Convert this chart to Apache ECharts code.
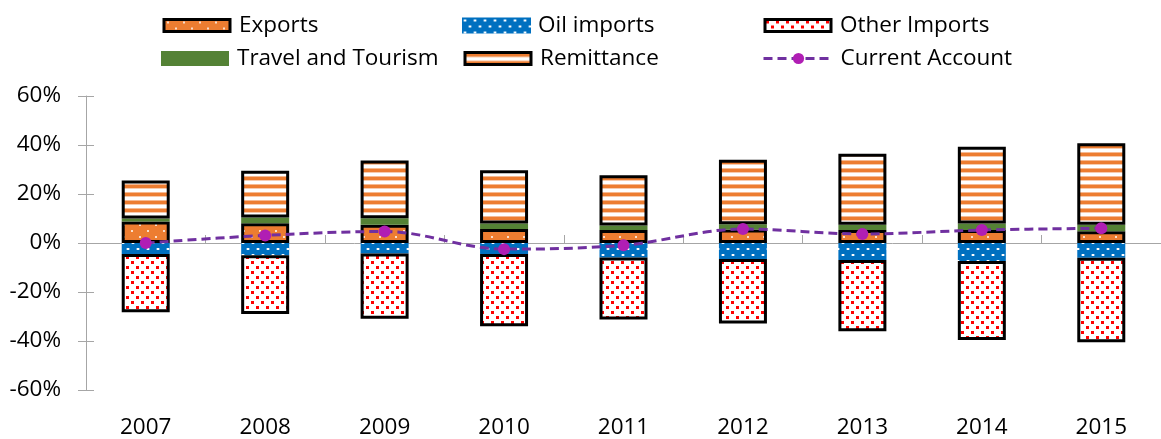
<!DOCTYPE html>
<html><head><meta charset="utf-8">
<script src="https://cdn.jsdelivr.net/npm/echarts@6/dist/echarts.min.js"></script>
<style>html,body{margin:0;padding:0;background:#fff}#c{width:1161px;height:439px}</style>
</head><body><div id="c"></div>
<script>
const years = ['2007','2008','2009','2010','2011','2012','2013','2014','2015'];
const exportsVals = [8.8, 8.1, 7.5, 5.7, 5.3, 5.5, 5.3, 5.3, 4.8];
const travelVals = [1.2, 2.3, 2.6, 2.3, 1.8, 2.2, 2.2, 2.7, 2.7];
const remitVals = [15.5, 19.1, 23.6, 21.7, 20.6, 26.3, 28.9, 31.3, 33.2];
const oilVals = [-4.5, -5.0, -4.3, -4.5, -5.9, -6.5, -6.9, -7.3, -6.0];
const otherVals = [-23.8, -24.0, -26.6, -29.5, -25.3, -26.4, -29.1, -32.3, -34.5];
const caVals = [0.0, 3.1, 4.7, -2.5, -0.9, 5.7, 3.7, 5.3, 6.0];

function tile(w, h, draw) {
  const c = document.createElement('canvas'); c.width = w; c.height = h;
  const g = c.getContext('2d'); draw(g); return c;
}
const exportsPat = tile(16, 12, g => {
  g.fillStyle = '#ED7D31'; g.fillRect(0,0,16,12);
  g.fillStyle = 'rgba(255,255,255,0.75)'; g.fillRect(3,2,2,2); g.fillRect(11,8,2,2);
});
const oilPat = tile(10, 12, g => {
  g.fillStyle = '#0070C0'; g.fillRect(0,0,10,12);
  g.fillStyle = '#ffffff'; g.fillRect(2,2,2,2); g.fillRect(7,8,2,2);
  g.fillStyle = 'rgba(255,255,255,0.35)'; g.fillRect(1,2,1,2); g.fillRect(4,2,1,2); g.fillRect(6,8,1,2); g.fillRect(9,8,1,2);
});
const otherPat = tile(10, 10, g => {
  g.fillStyle = '#ffffff'; g.fillRect(0,0,10,10);
  g.fillStyle = '#FF0000'; g.fillRect(1,1,3,3); g.fillRect(6,6,3,3);
});
const remitPat = tile(4, 8, g => {
  g.fillStyle = '#ffffff'; g.fillRect(0,0,4,8);
  g.fillStyle = '#F6B991'; g.fillRect(0,0,4,1);
  g.fillStyle = '#ED7D31'; g.fillRect(0,1,4,3);
  g.fillStyle = '#F8CBAD'; g.fillRect(0,4,4,1);
});
const pat = c => ({ image: c, repeat: 'repeat' });

const FONT = 'Open Sans';
const FS = 22.5;
const chart = echarts.init(document.getElementById('c'), null, { renderer: 'canvas' });

function leg(name, left, top, w, h, padL, icon) {
  const o = {
    data: [name], left: left, top: top, padding: 0, itemWidth: w, itemHeight: h,
    selectedMode: false,
    textStyle: { fontFamily: FONT, fontSize: FS, color: '#000', lineHeight: 22, padding: [1,0,0,padL] }
  };
  if (icon) o.icon = icon;
  return o;
}

chart.setOption({
  animation: false,
  legend: [
    leg({name:'Exports', itemStyle:{borderColor:'#000',borderWidth:3}}, 162.5, 14, 66, 12, 4, 'rect'),
    leg({name:'Travel and Tourism', itemStyle:{borderWidth:0}}, 161, 47, 68, 15, 3, 'rect'),
    leg({name:'Oil imports', itemStyle:{borderWidth:0}}, 462, 14, 69, 16, 2, 'rect'),
    leg({name:'Remittance', itemStyle:{borderColor:'#000',borderWidth:3}}, 463.5, 47, 66, 12, 4, 'rect'),
    leg({name:'Other Imports', itemStyle:{borderColor:'#000',borderWidth:3}}, 763.5, 14, 66, 12, 4, 'rect'),
    leg({name:'Current Account', lineStyle:{width:3,type:[9,5],color:'#7030A0'}}, 762, 47, 70, 14, 2)
  ],
  grid: { left: 86, top: 96, width: 1089, height: 299, containLabel: false },
  xAxis: [
    { type: 'category', data: years, boundaryGap: true,
      axisLine: { onZero: true, lineStyle: { color: '#A6A6A6', width: 1 } },
      axisTick: { show: true, inside: true, length: 8, lineStyle: { color: '#A6A6A6' } },
      axisLabel: { show: false }, splitLine: { show: false } },
    { type: 'category', data: years, position: 'bottom', boundaryGap: true,
      axisLine: { show: false, onZero: false }, axisTick: { show: false },
      axisLabel: { fontFamily: FONT, fontSize: FS, color: '#000', margin: 26 } }
  ],
  yAxis: [
    { type: 'value', min: -60, max: 60, interval: 20,
      axisLine: { show: true, lineStyle: { color: '#A6A6A6' } },
      axisTick: { show: true, length: 8, lineStyle: { color: '#A6A6A6' } },
      splitLine: { show: false },
      axisLabel: { formatter: '{value}%', fontFamily: FONT, fontSize: FS, color: '#000', margin: 25, padding: [4,0,0,0] } },
    { type: 'value', min: -60, max: 60, interval: 20, position: 'left',
      axisLine: { show: false }, axisTick: { show: true, inside: true, length: 8, lineStyle: { color: '#A6A6A6' } },
      splitLine: { show: false }, axisLabel: { show: false } }
  ],
  series: [
    { name: 'Exports', type: 'bar', stack: 'a', data: exportsVals, barWidth: 48,
      itemStyle: { color: pat(exportsPat), borderColor: '#000', borderWidth: 3 } },
    { name: 'Oil imports', type: 'bar', stack: 'a', data: oilVals, barWidth: 48,
      itemStyle: { color: pat(oilPat), borderWidth: 0 } },
    { name: 'Other Imports', type: 'bar', stack: 'a', data: otherVals, barWidth: 48,
      itemStyle: { color: pat(otherPat), borderColor: '#000', borderWidth: 3 } },
    { name: 'Travel and Tourism', type: 'bar', stack: 'a', data: travelVals, barWidth: 48,
      itemStyle: { color: '#548235', borderWidth: 0 } },
    { name: 'Remittance', type: 'bar', stack: 'a', data: remitVals, barWidth: 48,
      itemStyle: { color: pat(remitPat), borderColor: '#000', borderWidth: 3 } },
    { name: 'Current Account', type: 'line', data: caVals, smooth: 0.35, z: 5,
      symbol: 'circle', symbolSize: 12,
      lineStyle: { color: '#7030A0', width: 3, type: [9, 5] },
      itemStyle: { color: '#B01EB4' } }
  ]
});
</script></body></html>
